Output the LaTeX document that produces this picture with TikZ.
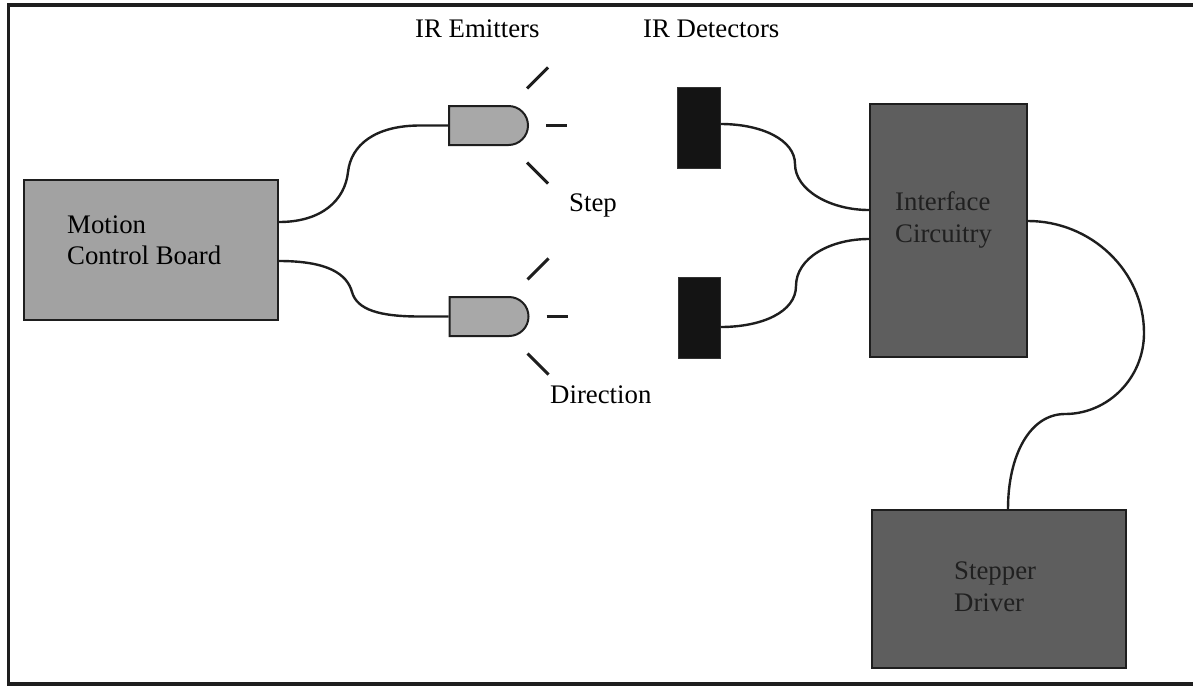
\documentclass[tikz,border=0pt]{standalone}
\usepackage{fontspec}
\setmainfont{Liberation Serif}
\usetikzlibrary{shapes.misc}
\definecolor{boardgray}{HTML}{A2A2A2}
\definecolor{emitgray}{HTML}{A8A8A8}
\definecolor{darkgray}{HTML}{5E5E5E}
\definecolor{inkline}{HTML}{1E1E1E}
\definecolor{darktext}{HTML}{202020}
\tikzset{
  lbl/.style={font=\fontsize{26.8}{32}\selectfont, inner sep=0pt, anchor=base west},
  darklbl/.style={lbl, text=darktext},
  block/.style={draw=inkline, line width=2pt, inner sep=0pt},
  emitter/.style={rounded rectangle, rounded rectangle left arc=none,
    draw=inkline, line width=2pt, fill=emitgray, inner sep=0pt,
    minimum width=79pt, minimum height=39pt},
  detector/.style={fill=black!92, draw=black!80, line width=1pt, inner sep=0pt},
  wire/.style={draw=inkline, line width=2.4pt},
  ray/.style={draw=inkline, line width=3pt},
  frame/.style={draw=inkline, line width=3.2pt}
}
\begin{document}
\begin{tikzpicture}[x=1pt, y=-1pt]
\useasboundingbox (0,0) rectangle (1193,686);

% outer frame, open on the right-hand side
\draw[frame] (1195,5) -- (8.5,5) -- (8.5,684) -- (1195,684);

% boards
\node[block, fill=boardgray, minimum width=254pt, minimum height=140pt] (mcb) at (151,250) {};
\node[block, fill=darkgray, minimum width=157pt, minimum height=253pt] (ic) at (948.5,230.5) {};
\node[block, fill=darkgray, minimum width=254pt, minimum height=158pt] (sd) at (999,589) {};

\node[lbl] (mcb1) at (67,233) {Motion};
\node[lbl] (mcb2) at (67,264) {Control Board};
\node[darklbl] (ic1) at (895,210) {Interface};
\node[darklbl] (ic2) at (895,242) {Circuitry};
\node[darklbl] (sd1) at (954,579) {Stepper};
\node[darklbl] (sd2) at (954,611) {Driver};

% emitters and their light rays
\node[emitter] (e1) at (488.5,125.5) {};
\node[emitter] (e2) at (489,316.5) {};
\foreach \e in {e1,e2}{
  \draw[ray] ([xshift=17pt]\e.east) -- ([xshift=38pt]\e.east);
  \draw[ray] ([xshift=-2pt,yshift=37pt]\e.east) -- ([xshift=19pt,yshift=58pt]\e.east);
  \draw[ray] ([xshift=-2pt,yshift=-37pt]\e.east) -- ([xshift=19pt,yshift=-58pt]\e.east);
}

% detectors
\node[detector, minimum width=43pt, minimum height=81pt] (d1) at (698.5,127.5) {};
\node[detector, minimum width=42pt, minimum height=81pt] (d2) at (699,317.5) {};

% labels
\node[lbl] (lem) at (415,37) {IR Emitters};
\node[lbl] (ldet) at (643,37) {IR Detectors};
\node[lbl] (lstep) at (569,211) {Step};
\node[lbl] (ldir) at (550,403) {Direction};

% wiring: each lead is two joined quarter bends
\draw[wire] ([yshift=28pt]mcb.east) .. controls (322,222) and (345,200) .. (348,172)
  .. controls (351,145) and (375,125.5) .. (420,125.5) -- (e1.west);
\draw[wire] ([yshift=-11pt]mcb.east) .. controls (328,261) and (347,274) .. (352,292)
  .. controls (357,310) and (380,316.5) .. (420,316.5) -- (e2.west);
\draw[wire] ([yshift=3.5pt]d1.east) .. controls (762,124) and (795,140) .. (795,164)
  .. controls (795,190) and (830,210) .. ([yshift=20.5pt]ic.west);
\draw[wire] ([yshift=-9.5pt]d2.east) .. controls (762,327) and (796,312) .. (796,286)
  .. controls (796,258) and (830,239) .. ([yshift=-8.5pt]ic.west);
\draw[wire] ([yshift=9.5pt]ic.east) .. controls (1091,221) and (1144,271) .. (1144,333)
  .. controls (1144,378) and (1108,414) .. (1065,414)
  .. controls (1030,414) and (1008,455) .. ([xshift=9pt]sd.north);
\end{tikzpicture}
\end{document}
